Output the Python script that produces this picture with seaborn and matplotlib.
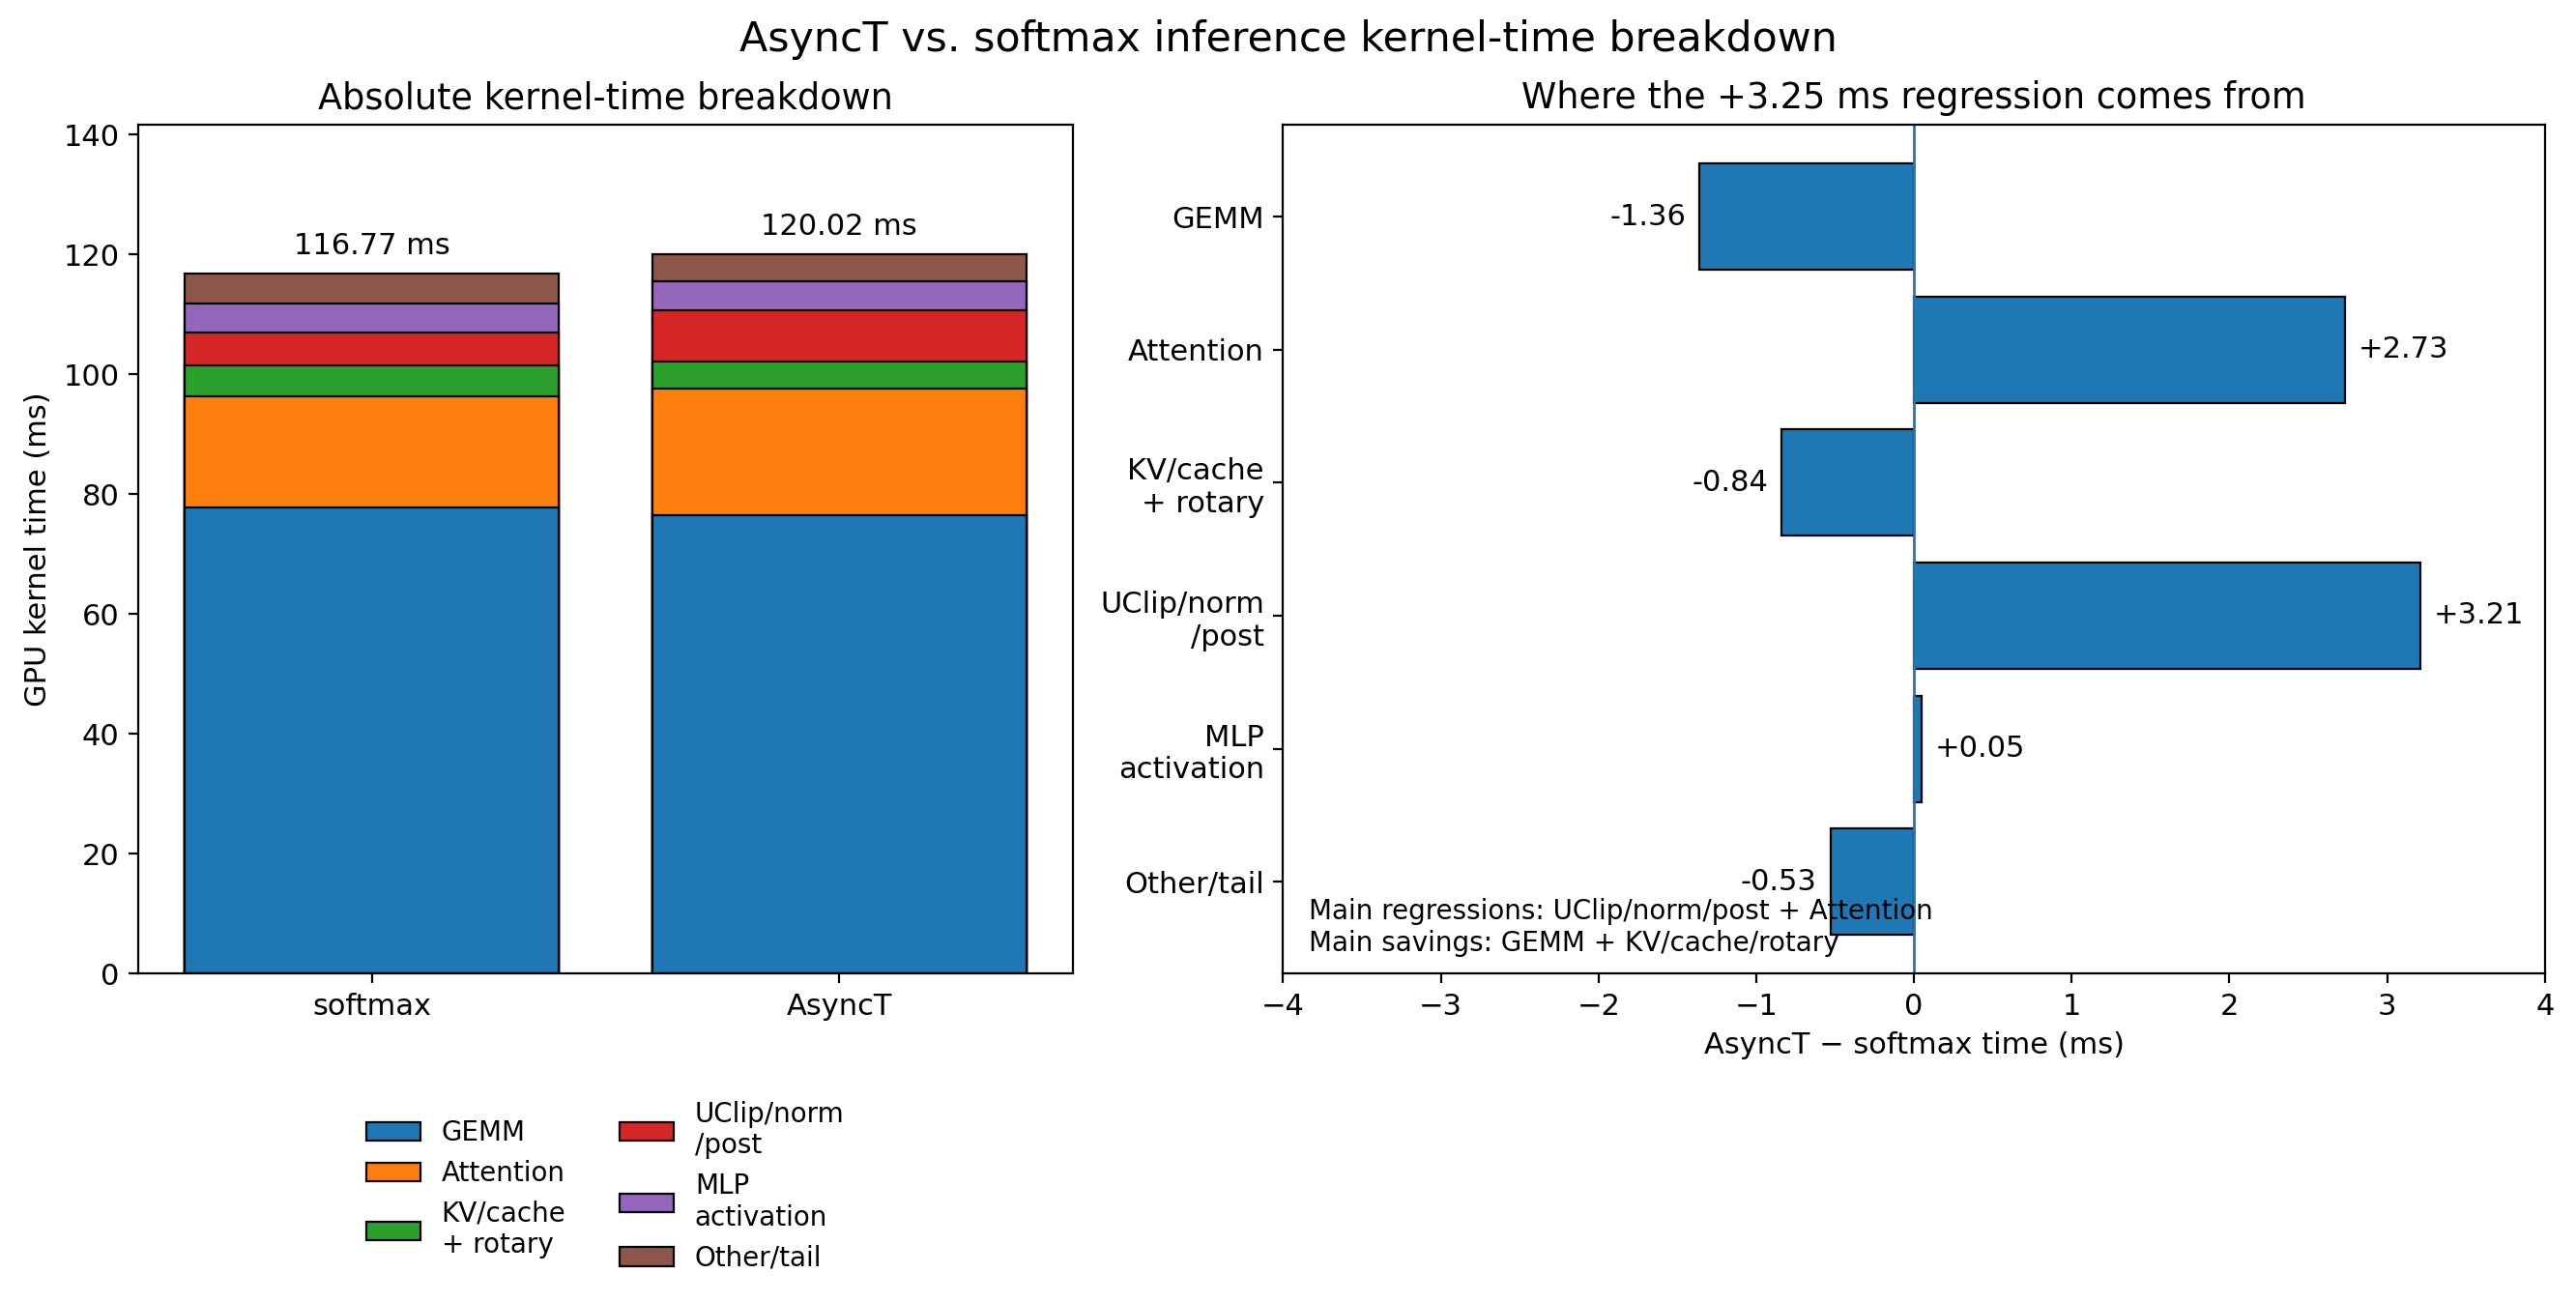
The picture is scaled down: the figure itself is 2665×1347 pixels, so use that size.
import matplotlib
matplotlib.use("Agg")
import matplotlib.pyplot as plt
import seaborn as sns
import pandas as pd
import numpy as np
from matplotlib.patches import Patch

# ---- data ----
configs = ["softmax", "AsyncT"]
components = ["GEMM", "Attention", "KV/cache\n+ rotary", "UClip/norm\n/post",
              "MLP\nactivation", "Other/tail"]
softmax_ms = [77.80, 18.52, 5.22, 5.38, 4.82, 5.03]
asynct_ms = [76.44, 21.25, 4.38, 8.59, 4.87, 4.494]
delta_ms = [-1.36, 2.73, -0.84, 3.21, 0.05, -0.53]
colors = ["#1f77b4", "#ff7f0e", "#2ca02c", "#d62728", "#9467bd", "#8c564b"]

note_lines = ["Main regressions: UClip/norm/post + Attention",
              "Main savings: GEMM + KV/cache/rotary"]

fig = plt.figure(figsize=(13.325, 6.735), dpi=200)
axL = fig.add_axes([0.0536, 0.2522, 0.3629, 0.652])
axR = fig.add_axes([0.4981, 0.2522, 0.4898, 0.652])

# ---- left: stacked bars (cumulative overlay) ----
cum_soft = np.cumsum(softmax_ms)
cum_async = np.cumsum(asynct_ms)
for i in range(len(components) - 1, -1, -1):
    df = pd.DataFrame({"config": configs, "value": [cum_soft[i], cum_async[i]]})
    sns.barplot(data=df, x="config", y="value", color=colors[i], saturation=1,
                edgecolor="black", linewidth=0.8, width=0.8, ax=axL, errorbar=None)

totals = [cum_soft[-1], cum_async[-1]]
for xi, t in enumerate(totals):
    axL.annotate(f"{t:.2f} ms", (xi, t), xytext=(0, 5), textcoords="offset points",
                 ha="center", va="bottom", fontsize=11)
axL.set_xlim(-0.5, 1.5)
axL.set_ylim(0, max(totals) * 1.18)
axL.set_xlabel("")
axL.set_ylabel("GPU kernel time (ms)", fontsize=11)
axL.set_title("Absolute kernel-time breakdown", fontsize=13.2)
axL.tick_params(labelsize=11)

handles = [Patch(facecolor=c, edgecolor="black", linewidth=0.8, label=l)
           for c, l in zip(colors, components)]
fig.legend(handles=handles, loc="upper center", bbox_to_anchor=(0.235, 0.173),
           ncol=2, frameon=False, fontsize=10)

# ---- right: deltas ----
dfd = pd.DataFrame({"component": components, "delta": delta_ms})
sns.barplot(data=dfd, x="delta", y="component", orient="h", color=colors[0],
            saturation=1, edgecolor="black", linewidth=0.8, width=0.8, ax=axR,
            errorbar=None)
axR.axvline(0, color=colors[0], linewidth=1)
for yi, d in enumerate(delta_ms):
    axR.annotate(f"{d:+.2f}", (d, yi), xytext=(5 if d >= 0 else -5, 0),
                 textcoords="offset points", ha="left" if d >= 0 else "right",
                 va="center", fontsize=11)
axR.set_xlim(-4, 4)
n = len(components)
axR.set_ylim(n - 1 + 0.4 + 0.29, -0.4 - 0.29)
axR.set_ylabel("")
axR.set_xlabel("AsyncT \u2212 softmax time (ms)", fontsize=11)
diff = totals[1] - totals[0]
axR.set_title(f"Where the {diff:+.2f} ms regression comes from", fontsize=13.2)
axR.tick_params(labelsize=11)
axR.text(0.02, 0.02, "\n".join(note_lines), transform=axR.transAxes,
         ha="left", va="bottom", fontsize=10)

fig.suptitle("AsyncT vs. softmax inference kernel-time breakdown", fontsize=15.4,
             y=0.985)
fig.savefig("out.png", dpi=200)
